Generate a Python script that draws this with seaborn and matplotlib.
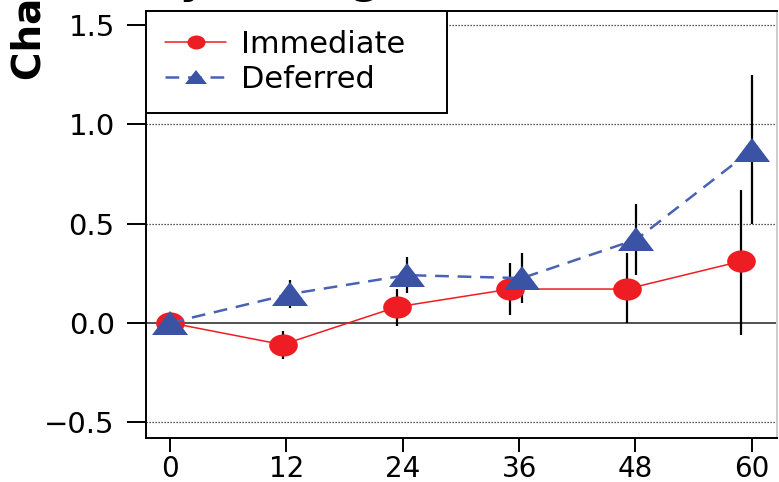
import matplotlib
matplotlib.use("Agg")
import matplotlib.pyplot as plt
from matplotlib.markers import MarkerStyle
from matplotlib.transforms import Affine2D
import numpy as np
import pandas as pd
import seaborn as sns

# Mean change by visit month, with lower/upper interval limits
arms = ["Immediate", "Deferred"]

imm_month = [0, 11.6, 23.4, 35.1, 47.1, 58.9]
imm_mean = [0.0, -0.11, 0.08, 0.17, 0.17, 0.31]
imm_low = [0.0, -0.18, -0.015, 0.04, 0.0, -0.06]
imm_high = [0.0, -0.04, 0.17, 0.30, 0.35, 0.67]

def_month = [0, 12.4, 24.4, 36.3, 48.1, 60.0]
def_mean = [0.0, 0.145, 0.24, 0.225, 0.42, 0.87]
def_low = [0.0, 0.075, 0.15, 0.10, 0.24, 0.50]
def_high = [0.0, 0.215, 0.33, 0.35, 0.60, 1.25]

x_ticks = [0, 12, 24, 36, 48, 60]
y_ticks = [-0.5, 0.0, 0.5, 1.0, 1.5]

df = pd.concat([
    pd.DataFrame({"arm": arms[0], "month": imm_month, "change": imm_mean,
                  "low": imm_low, "high": imm_high}),
    pd.DataFrame({"arm": arms[1], "month": def_month, "change": def_mean,
                  "low": def_low, "high": def_high}),
], ignore_index=True)

sns.set_style("ticks")
plt.rcParams["font.family"] = ["DejaVu Sans"]
plt.rcParams["text.color"] = "black"
plt.rcParams["axes.labelcolor"] = "black"
plt.rcParams["xtick.color"] = "black"
plt.rcParams["ytick.color"] = "black"

fig = plt.figure(figsize=(7.79, 4.82), dpi=100)
ax = fig.add_axes([146 / 779, 44 / 482, 631 / 779, 427 / 482])

RED = "#EE1D23"
BLUE = "#3A53A4"
BLUE_LINE = "#4A62B4"

# reference grid: dotted at the non-zero ticks, solid at zero
for yv in y_ticks:
    if yv == 0:
        ax.axhline(yv, color="#222222", lw=1.1, zorder=1)
    else:
        ax.axhline(yv, color="#222222", lw=0.9, ls=(0, (1, 1.4)), zorder=1)

# interval bars
bars = df[df["high"] > df["low"]]
ax.vlines(bars["month"], bars["low"], bars["high"], color="black", lw=1.6, zorder=1.5)

circle = MarkerStyle("o", transform=Affine2D().scale(1.29, 1.0))
triangle = MarkerStyle("^", transform=Affine2D().scale(1.52, 1.0))

sns.lineplot(data=df[df["arm"] == "Immediate"], x="month", y="change",
             color=RED, lw=1.1, marker=circle, markersize=16,
             markerfacecolor=RED, markeredgecolor=RED, markeredgewidth=0,
             sort=False, estimator=None, errorbar=None, ax=ax,
             label="Immediate", zorder=2)
sns.lineplot(data=df[df["arm"] == "Deferred"], x="month", y="change",
             color=BLUE_LINE, lw=1.8, linestyle=(0, (5.5, 3.5)),
             marker=triangle, markersize=17,
             markerfacecolor=BLUE, markeredgecolor=BLUE, markeredgewidth=0,
             sort=False, estimator=None, errorbar=None, ax=ax,
             label="Deferred", zorder=2.1)

ax.set_xlim(-2.48, 62.6)
ax.set_ylim(-0.58, 1.57)
ax.set_xticks(x_ticks)
ax.set_yticks(y_ticks)
ax.set_xticklabels([str(v) for v in x_ticks])
ax.set_yticklabels([f"{v:.1f}".replace("-", "\u2212") for v in y_ticks])
ax.set_xlabel("")
ax.set_ylabel("")

for side in ["left", "right", "top", "bottom"]:
    ax.spines[side].set_visible(True)
    ax.spines[side].set_color("black")
    ax.spines[side].set_linewidth(1.4)
ax.spines["right"].set_color("#cccccc")

ax.tick_params(axis="y", length=13.5, width=1.4, pad=9, labelsize=21, colors="black")
ax.tick_params(axis="x", length=10, width=1.4, pad=2, labelsize=20, colors="black")

leg = ax.legend(loc="upper left", bbox_to_anchor=(0, 0, 301 / 631, 1), mode="expand",
                borderaxespad=0, fontsize=22, frameon=True, fancybox=False,
                framealpha=1, edgecolor="black", borderpad=0.62, labelspacing=0.2,
                handlelength=2.0, handletextpad=0.5, markerscale=0.63)
leg.get_frame().set_linewidth(1.4)
leg.set_zorder(5)
for t in leg.get_texts():
    t.set_color("black")

# axis title and heading, running past the figure edges
fig.text(30 / 779, (482 - 80) / 482, "Change from baseline", rotation=90,
         ha="center", va="bottom", fontsize=28, fontweight="bold")
fig.text(472 / 779, 489 / 482, "Albumin by Arm (g/dL)", ha="right", va="baseline",
         fontsize=30, fontweight="bold")

fig.savefig("out.png", dpi=100)
